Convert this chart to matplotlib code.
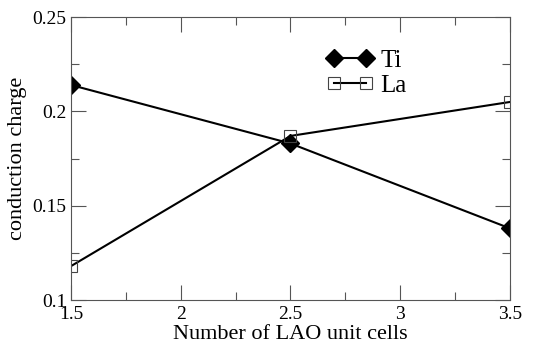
import matplotlib

matplotlib.use("Agg")
import matplotlib.pyplot as plt
from matplotlib.ticker import MultipleLocator

n_cells = [1.5, 2.5, 3.5]
ti_charge = [0.214, 0.183, 0.138]
la_charge = [0.118, 0.187, 0.205]

plt.rcParams["font.family"] = ["Liberation Serif", "DejaVu Serif"]

fig = plt.figure(figsize=(5.33, 3.47), dpi=100)
ax = fig.add_axes([0.133, 0.135, 0.824, 0.816])

ax.plot(n_cells, ti_charge, color="black", lw=1.5, marker="D", markersize=9,
        markerfacecolor="black", markeredgecolor="black", label="Ti")
ax.plot(n_cells, la_charge, color="black", lw=1.5, marker="s", markersize=9,
        markerfacecolor="none", markeredgecolor="#444444", markeredgewidth=0.8,
        label="La")

ax.set_xlim(1.5, 3.5)
ax.set_ylim(0.1, 0.25)
ax.xaxis.set_minor_locator(MultipleLocator(0.25))
ax.yaxis.set_minor_locator(MultipleLocator(0.025))
ax.set_xticks([1.5, 2, 2.5, 3, 3.5], ["1.5", "2", "2.5", "3", "3.5"])
ax.set_yticks([0.1, 0.15, 0.2, 0.25], ["0.1", "0.15", "0.2", "0.25"])
ax.tick_params(which="both", direction="in", top=True, right=True,
               color="#555555", labelsize=14)
ax.tick_params(which="major", length=11, width=0.8)
ax.tick_params(which="minor", length=6, width=0.8)
ax.tick_params(axis="x", pad=4.5)
ax.tick_params(axis="y", pad=3)
for s in ax.spines.values():
    s.set_color("#555555")
    s.set_linewidth(0.8)

ax.set_xlabel("Number of LAO unit cells", fontsize=16, labelpad=1)
ax.set_ylabel("conduction charge", fontsize=16, labelpad=4)

ax.legend(loc="upper left", bbox_to_anchor=(0.553, 0.93), frameon=False,
          fontsize=18, numpoints=2, handlelength=1.9, handletextpad=0.25,
          labelspacing=0.1, borderpad=0)

fig.savefig("out.png", dpi=100)
